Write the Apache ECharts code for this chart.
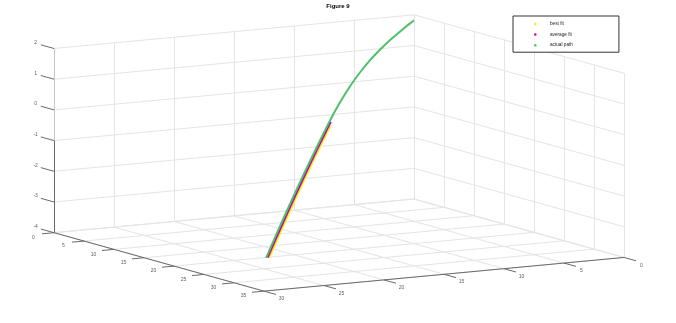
<!DOCTYPE html>
<html><head><meta charset="utf-8">
<script src="https://cdn.jsdelivr.net/npm/echarts@6/dist/echarts.min.js"></script>
<style>html,body{margin:0;padding:0;background:#fff}#c{width:676px;height:323px}</style>
</head><body><div id="c"></div>
<script>
// ---- axis ticks ----
const xTicks = [0, 5, 10, 15, 20, 25, 30, 35];
const yTicks = [0, 5, 10, 15, 20, 25, 30];
const zTicks = [-4, -3, -2, -1, 0, 1, 2];
const seriesNames = ['best fit', 'average fit', 'actual path'];

// ---- data (x, y, z) ----
const bestX = [34.51, 31.5, 28.0, 24.5, 21.0, 20.23];
const bestY = [29.31, 26.73, 23.73, 20.73, 17.73, 17.07];
const bestZ = [-2.956, -2.256, -1.475, -0.730, -0.030, 0.116];

const avgX = [34.51, 31.5, 28.0, 24.5, 21.0, 19.78];
const avgY = [29.45, 26.87, 23.87, 20.87, 17.87, 16.82];
const avgZ = [-2.956, -2.256, -1.475, -0.730, -0.030, 0.204];

const actX = [34.51, 31.5, 28.0, 24.5, 21.0, 19.25, 17.5, 15.75, 14.0, 12.25, 10.5, 8.75, 7.0, 5.25, 3.5, 1.75, 0];
const actY = [29.58, 27.0, 24.0, 21.0, 18.0, 16.5, 15.0, 13.5, 12.0, 10.5, 9.0, 7.5, 6.0, 4.5, 3.0, 1.5, 0];
const actZ = [-2.956, -2.256, -1.475, -0.730, -0.030, 0.299, 0.592, 0.846, 1.061, 1.236, 1.382, 1.500, 1.591, 1.667, 1.727, 1.779, 1.818];

// ---- 3D box limits ----
const X0 = xTicks[0], X1 = xTicks[xTicks.length - 1];
const Y0 = yTicks[0], Y1 = yTicks[yTicks.length - 1];
const Z0 = zTicks[0], Z1 = zTicks[zTicks.length - 1];

// orthographic projection onto the plot plane
function P(x, y, z) {
  return [414 + 6.0 * x - 12.0 * y, 199 + 1.67 * x + 1.123 * y - 30.7 * (z - Z0)];
}
function seg(a, b) { return { coords: [a, b] }; }

const gridSegs = [];
xTicks.forEach(x => {
  gridSegs.push(seg(P(x, Y0, Z0), P(x, Y1, Z0)));
  gridSegs.push(seg(P(x, Y0, Z0), P(x, Y0, Z1)));
});
yTicks.forEach(y => {
  gridSegs.push(seg(P(X0, y, Z0), P(X1, y, Z0)));
  gridSegs.push(seg(P(X0, y, Z0), P(X0, y, Z1)));
});
zTicks.forEach(z => {
  gridSegs.push(seg(P(X0, Y0, z), P(X0, Y1, z)));
  gridSegs.push(seg(P(X0, Y0, z), P(X1, Y0, z)));
});

const axisSegs = [
  seg(P(X0, Y1, Z0), P(X1, Y1, Z0)),
  seg(P(X1, Y1, Z0), P(X1, Y0, Z0)),
  seg(P(X0, Y1, Z0), P(X0, Y1, -1))
];
const axisSegsLight = [seg(P(X0, Y1, -1), P(X0, Y1, Z1))];
const tickSegs = [];
const labels = [];
function off(p, dx, dy) { return [p[0] + dx, p[1] + dy]; }
zTicks.forEach(z => {
  tickSegs.push(seg(P(X0, Y1, z), P(X0 - 2.2, Y1, z)));
  labels.push({ name: String(z), value: off(P(X0, Y1, z), -18.4, -6) });
});
xTicks.forEach(x => {
  tickSegs.push(seg(P(x, Y1, Z0), P(x, Y1 + 1, Z0)));
  labels.push({ name: String(x), value: off(P(x, Y1, Z0), -20.5, 4.8) });
});
yTicks.forEach(y => {
  tickSegs.push(seg(P(X1, y, Z0), P(X1 + 2, y, Z0)));
  labels.push({ name: String(y), value: off(P(X1, y, Z0), 17.5, 7.8) });
});

function proj(xs, ys, zs) { return xs.map((x, i) => P(x, ys[i], zs[i])); }

const FONT = 'Liberation Sans';
const chart = echarts.init(document.getElementById('c'), null, { renderer: 'canvas' });
chart.setOption({
  animation: false,
  backgroundColor: '#fff',
  title: {
    text: 'Figure 9', left: 'center', top: 3, padding: 0,
    textStyle: { fontSize: 6, fontWeight: 'bold', color: '#000', fontFamily: FONT }
  },
  legend: {
    data: seriesNames,
    orient: 'vertical',
    left: 513, top: 16,
    padding: [5, 46, 4, 21],
    itemGap: 4.6,
    itemWidth: 2.5, itemHeight: 2.5,
    icon: 'circle',
    borderColor: '#333', borderWidth: 1,
    backgroundColor: '#fff',
    textStyle: { fontSize: 4.7, color: '#222', fontFamily: FONT, padding: [0, 0, 0, 8.5], lineHeight: 6 }
  },
  grid: { left: 0, right: 0, top: 0, bottom: 0 },
  xAxis: { type: 'value', min: 0, max: 676, show: false },
  yAxis: { type: 'value', min: 0, max: 323, inverse: true, show: false },
  series: [
    { type: 'lines', coordinateSystem: 'cartesian2d', silent: true, z: 1,
      data: gridSegs, lineStyle: { color: '#e4e4e4', width: 1, opacity: 1 } },
    { type: 'lines', coordinateSystem: 'cartesian2d', silent: true, z: 2,
      data: axisSegsLight, lineStyle: { color: '#c4c4c4', width: 1, opacity: 1 } },
    { type: 'lines', coordinateSystem: 'cartesian2d', silent: true, z: 2,
      data: axisSegs.concat(tickSegs), lineStyle: { color: '#6a6a6a', width: 1, opacity: 1 } },
    { type: 'scatter', silent: true, z: 3, symbolSize: 1,
      itemStyle: { color: 'rgba(0,0,0,0)' },
      data: labels,
      label: { show: true, position: 'inside', formatter: '{b}', fontSize: 5, color: '#333', fontFamily: FONT } },
    { name: seriesNames[0], type: 'line', z: 4, smooth: 0.3, showSymbol: false,
      data: proj(bestX, bestY, bestZ),
      itemStyle: { color: '#f2f200' }, lineStyle: { color: '#f2f200', width: 2 } },
    { name: seriesNames[1], type: 'line', z: 5, smooth: 0.3, showSymbol: false,
      data: proj(avgX, avgY, avgZ),
      itemStyle: { color: '#c000c0' }, lineStyle: { color: '#c000c0', width: 2 } },
    { name: seriesNames[2], type: 'line', z: 6, smooth: 0.3, showSymbol: false,
      data: proj(actX, actY, actZ),
      itemStyle: { color: '#4fc06a' }, lineStyle: { color: '#4fc06a', width: 2 } }
  ]
});
</script></body></html>
